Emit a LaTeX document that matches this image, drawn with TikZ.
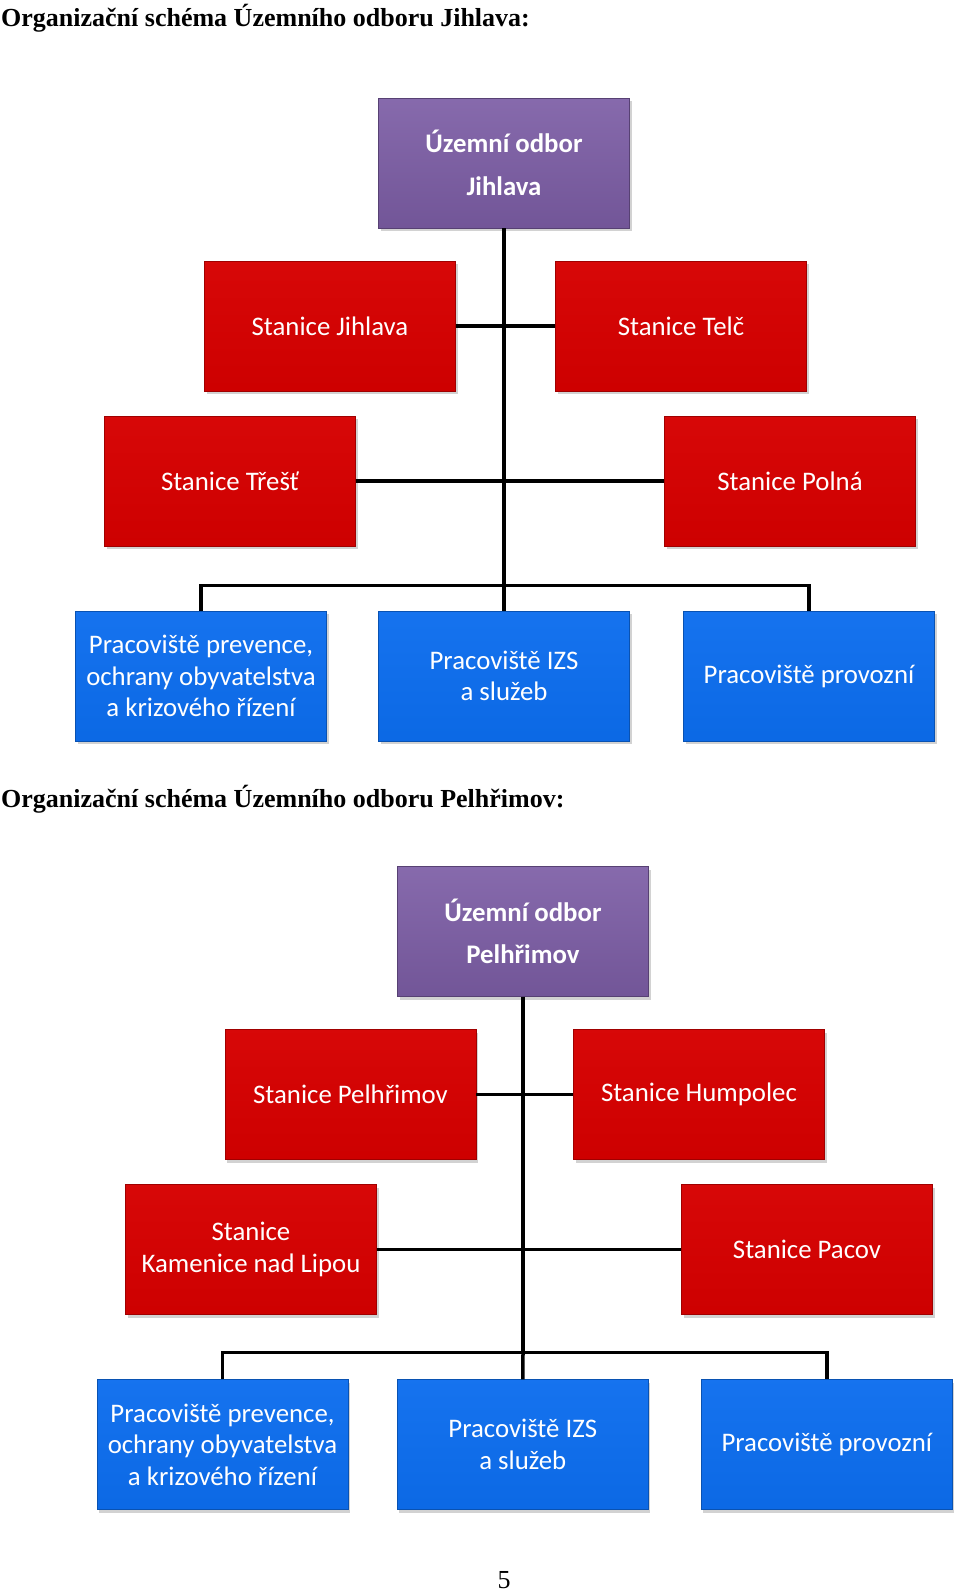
\documentclass[tikz,border=0pt]{standalone}
\usepackage{fontspec}
\setmainfont{Liberation Serif}
\newfontfamily\boxfont{Carlito}
\usetikzlibrary{shapes.geometric, arrows, positioning, shadows}

\definecolor{redfill}{HTML}{D60000}
\definecolor{purplefill}{HTML}{7C5DA5}
\definecolor{bluefill}{HTML}{0C6DEE}

\begin{document}
\begin{tikzpicture}[node distance=163pt]
        \tikzstyle{box} = [rectangle, text centered, align=center, text=white, minimum height=130pt, minimum width=251pt, inner sep=0pt,
            drop shadow={opacity=0.35, shadow xshift=2pt, shadow yshift=-3pt}, font=\boxfont\fontsize{26.8}{31.4}\selectfont]
        \tikzstyle{rootbox} = [box, top color=purplefill!92!white, bottom color=purplefill!92!black, draw=purplefill!70!black, font=\boxfont\bfseries\fontsize{26.8}{42.6}\selectfont]
        \tikzstyle{redbox} = [box, top color=redfill!97!white, bottom color=redfill!96!black, draw=redfill!75!black]
        \tikzstyle{bluebox} = [box, top color=bluefill!96!white, bottom color=bluefill!96!black, draw=bluefill!75!black]
        \tikzstyle{line} = [line width=3.5pt, black]
        \tikzstyle{heading} = [anchor=base west, inner sep=0pt, font=\bfseries\fontsize{26}{30}\selectfont]

        \useasboundingbox[fill=white] (0,0) rectangle (960pt,-1591pt);

        % Jihlava
        \node (title1) [heading] at (1pt,-26pt) {Organizační schéma Územního odboru Jihlava:};

        \node (jihlava) [rootbox] at (504pt,-163pt) {Územní odbor\\Jihlava};
        \node (stjihlava) [redbox, below of=jihlava, xshift=-174pt] {Stanice Jihlava};
        \node (sttelc) [redbox, below of=jihlava, xshift=177pt] {Stanice Telč};
        \node (sttrest) [redbox, below of=stjihlava, xshift=-100pt, yshift=8pt] {Stanice Třešť};
        \node (stpolna) [redbox, below of=sttelc, xshift=109pt, yshift=8pt] {Stanice Polná};

        \node (prevence1) [bluebox, below of=sttrest, xshift=-29pt, yshift=-32pt] {Pracoviště prevence,\\ochrany obyvatelstva\\a krizového řízení};
        \node (izs1) [bluebox, right of=prevence1, xshift=140pt] {Pracoviště IZS\\a služeb};
        \node (provozni1) [bluebox, right of=izs1, xshift=142pt] {Pracoviště provozní};

        \coordinate (bus1) at (504pt,-585.5pt);

        \draw [line] (jihlava) -- (bus1);
        \draw [line] (stjihlava) -- (sttelc);
        \draw [line] (sttrest) -- (stpolna);
        \draw [line] (prevence1) |- (bus1) -| (provozni1);
        \draw [line] (bus1) -- (izs1);

        % Pelhrimov
        \node (title2) [heading] at (1pt,-807pt) {Organizační schéma Územního odboru Pelhřimov:};

        \node (pelhrimov) [rootbox] at (523pt,-931.5pt) {Územní odbor\\Pelhřimov};
        \node (stpelhrimov) [redbox, below of=pelhrimov, xshift=-172.5pt] {Stanice Pelhřimov};
        \node (sthumpolec) [redbox, below of=pelhrimov, xshift=176pt] {Stanice Humpolec};
        \node (stkamenice) [redbox, below of=stpelhrimov, xshift=-99.5pt, yshift=8pt] {Stanice\\Kamenice nad Lipou};
        \node (stpacov) [redbox, below of=sthumpolec, xshift=108pt, yshift=8pt] {Stanice Pacov};

        \node (prevence2) [bluebox, below of=stkamenice, xshift=-28.5pt, yshift=-32pt] {Pracoviště prevence,\\ochrany obyvatelstva\\a krizového řízení};
        \node (izs2) [bluebox, right of=prevence2, xshift=137.3pt] {Pracoviště IZS\\a služeb};
        \node (provozni2) [bluebox, right of=izs2, xshift=141pt] {Pracoviště provozní};

        \coordinate (bus2) at (523pt,-1352.5pt);

        \draw [line] (pelhrimov) -- (bus2);
        \draw [line] (stpelhrimov) -- (sthumpolec);
        \draw [line] (stkamenice) -- (stpacov);
        \draw [line] (prevence2) |- (bus2) -| (provozni2);
        \draw [line] (bus2) -- (izs2);

        \node (page) [anchor=base, inner sep=0pt, font=\fontsize{26}{30}\selectfont] at (504pt,-1588pt) {5};
    \end{tikzpicture}
\end{document}
